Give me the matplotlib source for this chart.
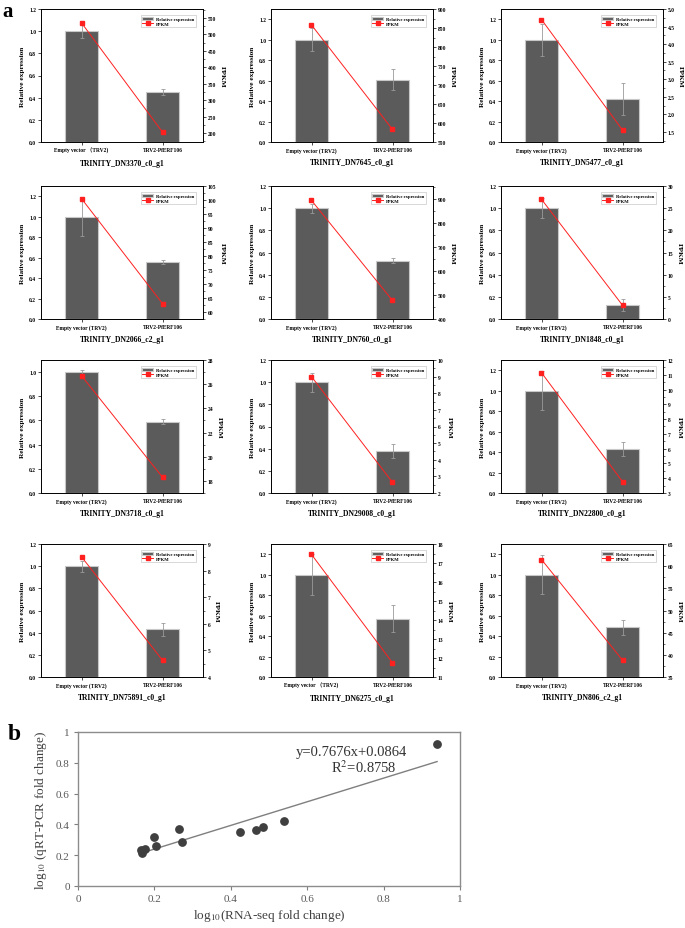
import numpy as np
import matplotlib.pyplot as plt
from matplotlib.ticker import MultipleLocator, AutoMinorLocator, FuncFormatter

plt.rcParams['font.family'] = ['Liberation Serif', 'Noto Sans CJK SC']
plt.rcParams['mathtext.fontset'] = 'stix'

# ---- panel a data ----
genes = ["TRINITY_DN3370_c0_g1", "TRINITY_DN7645_c0_g1", "TRINITY_DN5477_c0_g1",
         "TRINITY_DN2066_c2_g1", "TRINITY_DN760_c0_g1", "TRINITY_DN1848_c0_g1",
         "TRINITY_DN3718_c0_g1", "TRINITY_DN29008_c0_g1", "TRINITY_DN22800_c0_g1",
         "TRINITY_DN75891_c0_g1", "TRINITY_DN6275_c0_g1", "TRINITY_DN806_c2_g1"]
ctrl_labels = ["Empty vector （TRV2)", "Empty vector (TRV2)", "Empty vector (TRV2)",
               "Empty vector (TRV2)", "Empty vector (TRV2)", "Empty vector (TRV2)",
               "Empty vector (TRV2)", "Empty vector (TRV2)", "Empty vector (TRV2)",
               "Empty vector (TRV2)", "Empty vector （TRV2)", "Empty vector (TRV2)"]
treat_label = "TRV2-PfERF106"

rel_ctrl = [1.0, 1.0, 1.0, 1.0, 1.0, 1.0, 1.0, 1.0, 1.0, 1.0, 1.0, 1.0]
rel_treat = [0.45, 0.61, 0.42, 0.557, 0.527, 0.124, 0.589, 0.38, 0.43, 0.43, 0.57, 0.485]
err_ctrl = [0.06, 0.11, 0.155, 0.19, 0.04, 0.09, 0.02, 0.085, 0.19, 0.05, 0.2, 0.19]
err_treat = [0.025, 0.1, 0.16, 0.02, 0.025, 0.055, 0.02, 0.065, 0.07, 0.06, 0.13, 0.075]
fpkm_ctrl = [535, 858, 4.7, 100.5, 893, 27.0, 26.7, 9.0, 11.14, 8.52, 17.45, 61.5]
fpkm_treat = [203, 583, 1.55, 63.0, 477, 3.1, 18.3, 2.64, 3.77, 4.63, 11.75, 38.8]

# axis ranges
left_top = [1.2, 1.3, 1.3, 1.3, 1.2, 1.2, 1.1, 1.2, 1.3, 1.2, 1.3, 1.3]
right_lim = [(173, 577), (550, 900), (1.21, 5.0), (57.5, 105), (400, 953), (0, 30),
             (17, 28), (2, 10), (3, 12), (4, 9), (11, 18), (35, 65)]
right_step = [50, 50, 0.5, 5, 100, 5, 2, 1, 1, 1, 1, 5]

# ---- panel b data ----
rnaseq = [0.165, 0.168, 0.175, 0.200, 0.204, 0.265, 0.273, 0.425, 0.467, 0.483, 0.538, 0.940]
qpcr = [0.233, 0.217, 0.243, 0.315, 0.259, 0.370, 0.283, 0.348, 0.363, 0.385, 0.422, 0.920]
slope, intercept = 0.7676, 0.0864

W, H = 685, 929
fig = plt.figure(figsize=(W / 100, H / 100), dpi=100)

col_left = [41, 271, 501]
row_top = [10, 187, 361, 545]
aw, ah = 162, 133

bar_color = '#5b5b5b'
for i in range(12):
    r, c = divmod(i, 3)
    x0, y0 = col_left[c], row_top[r]
    ax = fig.add_axes([x0 / W, 1 - (y0 + ah) / H, aw / W, ah / H])
    xs = [0, 1]
    ax.bar(xs, [rel_ctrl[i], rel_treat[i]], width=0.4, color=bar_color,
           edgecolor='#c8c8c8', linewidth=0.8, label='Relative expression', zorder=2)
    ax.errorbar(xs, [rel_ctrl[i], rel_treat[i]], yerr=[err_ctrl[i], err_treat[i]],
                fmt='none', ecolor='#9a9a9a', elinewidth=0.6, capsize=1.5, capthick=0.6, zorder=3)
    ax.set_xlim(-0.5, 1.5)
    ax.set_ylim(0, left_top[i])
    ax.yaxis.set_major_locator(MultipleLocator(0.2))
    ax.yaxis.set_major_formatter(FuncFormatter(lambda v, p: f"{v:.1f}"))
    ax.set_xticks(xs)
    ax.set_xticklabels([ctrl_labels[i], treat_label])
    ax.tick_params(labelsize=4, length=2, width=0.5, pad=1.5)
    for lab in ax.get_xticklabels() + ax.get_yticklabels():
        lab.set_fontweight('bold')
    ax.set_ylabel("Relative expression", fontsize=5.3, fontweight='bold', labelpad=3)
    ax.set_xlabel(genes[i], fontsize=5.5, fontweight='bold', labelpad=4)
    for s in ax.spines.values():
        s.set_linewidth(0.6)

    ax2 = ax.twinx()
    ax2.plot(xs, [fpkm_ctrl[i], fpkm_treat[i]], color='#ff2020', lw=0.7,
             marker='s', ms=2.2, label='FPKM', zorder=4)
    ax2.set_ylim(*right_lim[i])
    ax2.yaxis.set_major_locator(MultipleLocator(right_step[i]))
    ax2.yaxis.set_minor_locator(AutoMinorLocator(2))
    if right_step[i] < 1:
        ax2.yaxis.set_major_formatter(FuncFormatter(lambda v, p: f"{v:.1f}"))
    else:
        ax2.yaxis.set_major_formatter(FuncFormatter(lambda v, p: f"{v:.0f}"))
    ax2.tick_params(labelsize=4, length=2, width=0.5, pad=1.5)
    ax2.tick_params(which='minor', length=1.2, width=0.4)
    for lab in ax2.get_yticklabels():
        lab.set_fontweight('bold')
    ax2.set_ylabel("FPKM", fontsize=5.3, fontweight='bold', rotation=270, labelpad=6)
    for s in ax2.spines.values():
        s.set_linewidth(0.6)

    h1, l1 = ax.get_legend_handles_labels()
    h2, l2 = ax2.get_legend_handles_labels()
    leg = ax2.legend(h1 + h2, l1 + l2, loc='upper right', fontsize=3.3, frameon=True,
                     fancybox=False, edgecolor='#aaaaaa', borderpad=0.3, handlelength=2.2,
                     labelspacing=0.2, handleheight=0.6, bbox_to_anchor=(0.97, 0.97))
    leg.get_frame().set_linewidth(0.4)
    for t in leg.get_texts():
        t.set_fontweight('bold')

fig.text(2 / W, 1 - 12 / H, 'a', fontsize=15, fontweight='bold', va='center')

# ---- panel b ----
bx0, bx1, by0, by1 = 78, 460, 733, 887
axb = fig.add_axes([bx0 / W, 1 - by1 / H, (bx1 - bx0) / W, (by1 - by0) / H])
axb.scatter(rnaseq, qpcr, s=28, color='#3f3f3f', zorder=3)
fx = np.array([min(rnaseq), max(rnaseq)])
axb.plot(fx, slope * fx + intercept, color='#7f7f7f', lw=1.0, zorder=2)
axb.set_xlim(0, 1)
axb.set_ylim(0, 1)
axb.xaxis.set_major_locator(MultipleLocator(0.2))
axb.yaxis.set_major_locator(MultipleLocator(0.2))
fmt = FuncFormatter(lambda v, p: f"{v:g}")
axb.xaxis.set_major_formatter(fmt)
axb.yaxis.set_major_formatter(fmt)
axb.tick_params(labelsize=8, colors='#7f7f7f', labelcolor='#595959', length=3, width=0.8, pad=3)
for s in axb.spines.values():
    s.set_color('#8c8c8c')
    s.set_linewidth(1.0)
axb.set_xlabel(r"log$_{10}$(RNA-seq fold change)", fontsize=9.5, color='#404040', labelpad=3)
axb.set_ylabel(r"log$_{10}$ (qRT-PCR fold change)", fontsize=9.5, color='#404040', labelpad=5)
axb.text(0.571, 0.876, f"y={slope}x+{intercept}", fontsize=10.5, color='#333333', va='center')
axb.text(0.663, 0.776, f"R$^2$=0.8758", fontsize=10.5, color='#333333', va='center')

fig.text(8 / W, 1 - 735 / H, 'b', fontsize=17, fontweight='bold', va='center')

fig.savefig('out.png', dpi=100)
